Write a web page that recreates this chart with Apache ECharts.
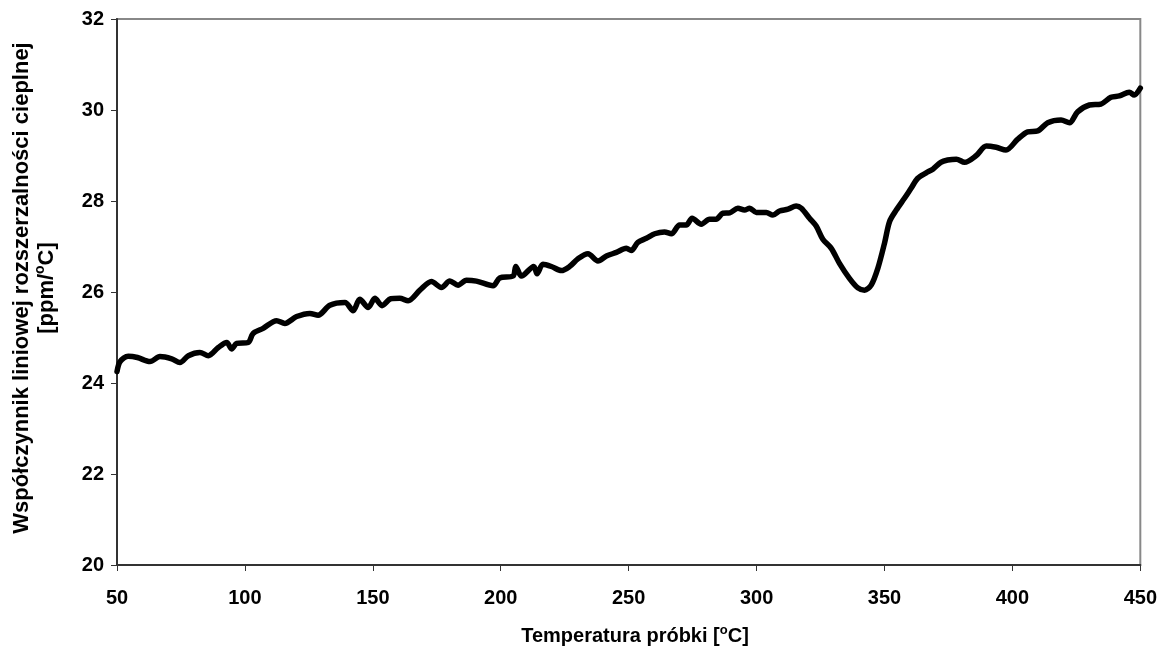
<!DOCTYPE html>
<html><head><meta charset="utf-8">
<script src="https://cdn.jsdelivr.net/npm/echarts@6/dist/echarts.min.js"></script>
<style>html,body{margin:0;padding:0;background:#fff}#c{width:1160px;height:648px}</style>
</head><body><div id="c"></div>
<script>
const temperatures = [50,51.2,54.4,58,62.9,66.8,71.4,74.6,77.9,82.4,85.7,89.6,92.9,94.8,96.8,101.3,103.2,107.1,112.4,115.6,120.2,125.4,128.6,133.2,139.1,142.3,144.9,148.2,150.8,153.6,157,160.5,163.8,168.4,172.9,176.8,180.1,183.3,186.6,190.5,197,199.6,204.8,205.9,208.1,212.9,214.2,216.5,219.8,223.7,226.9,230.2,234.1,238,241.3,245.2,249.1,251,253.6,256.9,260.2,264,266.7,269.9,272.5,274.8,278.4,281.6,284.2,286.8,289.5,292.7,295.3,297.3,299.9,303.8,306.4,309,312.3,315.5,317.5,320.7,323.3,325.9,329.2,332.4,336.3,339.6,342.2,344.8,347.4,350,352,354.6,357.8,360.4,363,366.3,368.9,372,374.7,378.1,381.3,385.9,389.8,393.7,397.5,402.1,406,409.9,413.8,419,422.3,425.5,430.1,434.6,438.5,441.8,445.7,447.6,450];
const coefficients = [24.25,24.47,24.59,24.56,24.47,24.58,24.53,24.45,24.60,24.67,24.60,24.78,24.89,24.75,24.87,24.89,25.09,25.20,25.37,25.31,25.46,25.53,25.49,25.71,25.77,25.59,25.84,25.66,25.86,25.70,25.85,25.86,25.81,26.04,26.23,26.10,26.24,26.15,26.26,26.24,26.14,26.31,26.35,26.56,26.35,26.56,26.40,26.61,26.56,26.47,26.56,26.73,26.84,26.68,26.79,26.87,26.96,26.91,27.09,27.18,27.28,27.32,27.28,27.47,27.47,27.62,27.49,27.60,27.60,27.73,27.74,27.84,27.80,27.84,27.75,27.75,27.69,27.78,27.82,27.89,27.84,27.62,27.45,27.16,26.96,26.63,26.30,26.09,26.04,26.15,26.52,27.07,27.55,27.80,28.06,28.28,28.50,28.62,28.70,28.85,28.90,28.92,28.85,29.00,29.21,29.18,29.12,29.36,29.52,29.54,29.72,29.78,29.72,29.96,30.11,30.13,30.28,30.31,30.39,30.33,30.48];
const xTicks = [50,100,150,200,250,300,350,400,450];
const yTicks = [20,22,24,26,28,30,32];
const xTitle = ['Temperatura próbki [', 'o', 'C]'];
const yTitleLine1 = 'Współczynnik liniowej rozszerzalności cieplnej';
const yTitleLine2 = ['[ppm/', 'o', 'C]'];

const seriesData = temperatures.map((t,i)=>[t,coefficients[i]]);
const font = '"Liberation Sans", Arial, sans-serif';
const chart = echarts.init(document.getElementById('c'));
chart.setOption({
  animation:false,
  backgroundColor:'#fff',
  grid:{left:117,right:19,top:19,bottom:83,show:true,borderColor:'#888',borderWidth:2,backgroundColor:'transparent'},
  xAxis:{type:'value',min:xTicks[0],max:xTicks[xTicks.length-1],interval:50,
    axisLine:{lineStyle:{color:'#333',width:2}},
    axisTick:{show:true,length:6,lineStyle:{color:'#333',width:1}},
    axisLabel:{color:'#000',fontFamily:font,fontWeight:'bold',fontSize:20,margin:23},
    splitLine:{show:false}},
  yAxis:{type:'value',min:yTicks[0],max:yTicks[yTicks.length-1],interval:2,
    axisLine:{show:true,lineStyle:{color:'#333',width:2}},
    axisTick:{show:true,length:6,lineStyle:{color:'#333',width:1}},
    axisLabel:{color:'#000',fontFamily:font,fontWeight:'bold',fontSize:20,margin:13},
    splitLine:{show:false}},
  graphic:[
    {type:'text',x:635,y:636,style:{
      rich:{a:{fontFamily:font,fontWeight:'bold',fontSize:20,fill:'#000'},
            s:{fontFamily:font,fontWeight:'bold',fontSize:13,fill:'#000',padding:[0,0,12,0]}},
      text:'{a|'+xTitle[0]+'}{s|'+xTitle[1]+'}{a|'+xTitle[2]+'}',align:'center',verticalAlign:'middle'}},
    {type:'group',x:34.5,y:288,rotation:Math.PI/2,children:[
      {type:'text',style:{text:yTitleLine1,fontFamily:font,fontWeight:'bold',fontSize:22,fill:'#000',align:'center',verticalAlign:'middle'},x:0,y:-12.5},
      {type:'text',style:{
        rich:{a:{fontFamily:font,fontWeight:'bold',fontSize:22,fill:'#000'},
              s:{fontFamily:font,fontWeight:'bold',fontSize:14,fill:'#000',padding:[0,0,13,0]}},
        text:'{a|'+yTitleLine2[0]+'}{s|'+yTitleLine2[1]+'}{a|'+yTitleLine2[2]+'}',align:'center',verticalAlign:'middle'},x:0,y:12.5}
    ]}
  ],
  series:[{type:'line',data:seriesData,showSymbol:false,smooth:0.3,
    lineStyle:{color:'#000',width:5.5,join:'round',cap:'round'}}]
});
</script></body></html>
